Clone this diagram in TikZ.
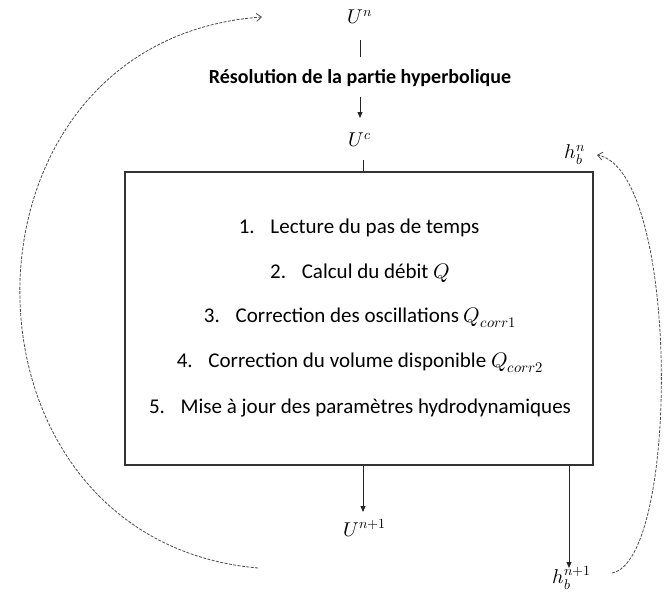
\documentclass[tikz,border=0pt]{standalone}
\usepackage{fontspec}
\usepackage{unicode-math}
\setmainfont{Carlito}
\setmathfont{Latin Modern Math}
\usetikzlibrary{arrows.meta}
\begin{document}
\begin{tikzpicture}[x=1pt,y=-1pt,
  lbl/.style={inner sep=0pt,font=\fontsize{20}{24}\selectfont},
  titlebox/.style={inner sep=0pt,font=\fontsize{20}{24}\selectfont\bfseries},
  itembox/.style={inner sep=0pt,font=\fontsize{21}{25}\selectfont},
  frame/.style={draw=black!80,line width=1.1pt,minimum width=468pt,minimum height=293pt,inner sep=0pt},
  flow/.style={draw=black!85,line width=0.9pt},
  flowarrow/.style={flow,-{Triangle[length=6pt,width=5pt]}},
  loop/.style={draw=black!70,line width=0.8pt,dash pattern=on 3pt off 1.4pt,-{Straight Barb[length=5pt,width=8pt]}}]
\useasboundingbox (0,0) rectangle (664,597);

\node[lbl] (Un) at (360,17) {$U^{n}$};
\node[titlebox] (res) at (360,78) {Résolution de la partie hyperbolique};
\node[lbl] (Uc) at (360,140) {$U^{c}$};
\node[frame] (box) at (359,318.5) {};

\node[itembox] (i1) at (359,228) {1.\hspace{0.75em}Lecture du pas de temps};
\node[itembox] (i2) at (360,273) {2.\hspace{0.75em}Calcul du débit $Q$};
\node[itembox] (i3) at (360,318) {3.\hspace{0.75em}Correction des oscillations $Q_{corr1}$};
\node[itembox] (i4) at (360,363) {4.\hspace{0.75em}Correction du volume disponible $Q_{corr2}$};
\node[itembox] (i5) at (360,408) {5.\hspace{0.75em}Mise à jour des paramètres hydrodynamiques};

\node[lbl] (Un1) at (365,528) {$U^{n+1}$};
\node[lbl] (hbn) at (575,155) {$h_b^{n}$};
\node[lbl] (hbn1) at (572,578) {$h_b^{n+1}$};

\coordinate (lstart) at (258,568);
\coordinate (lend) at (262,17);
\coordinate (ucb) at ([xshift=3pt,yshift=-20pt]Uc.center);
\coordinate (un1t) at ([xshift=-2pt,yshift=16pt]Un1.center);
\coordinate (hbt) at ([xshift=-3pt,yshift=10pt]hbn1.center);

\draw[flow] ([yshift=-23pt]Un.center) -- ([yshift=21pt]res.center);
\draw[flowarrow] ([yshift=-19pt]res.center) -- ([yshift=22pt]Uc.center);
\draw[flow] (ucb) -- (ucb |- box.north);
\draw[flowarrow] (un1t |- box.south) -- (un1t);
\draw[flowarrow] (hbt |- box.south) -- (hbt);

\draw[loop] (lstart) .. controls (-60,540) and (-60,40) .. (lend);
\draw[loop] ([xshift=40pt,yshift=5pt]hbn1.center) .. controls (680,560) and (680,170) .. ([xshift=22pt]hbn.center);
\end{tikzpicture}
\end{document}
